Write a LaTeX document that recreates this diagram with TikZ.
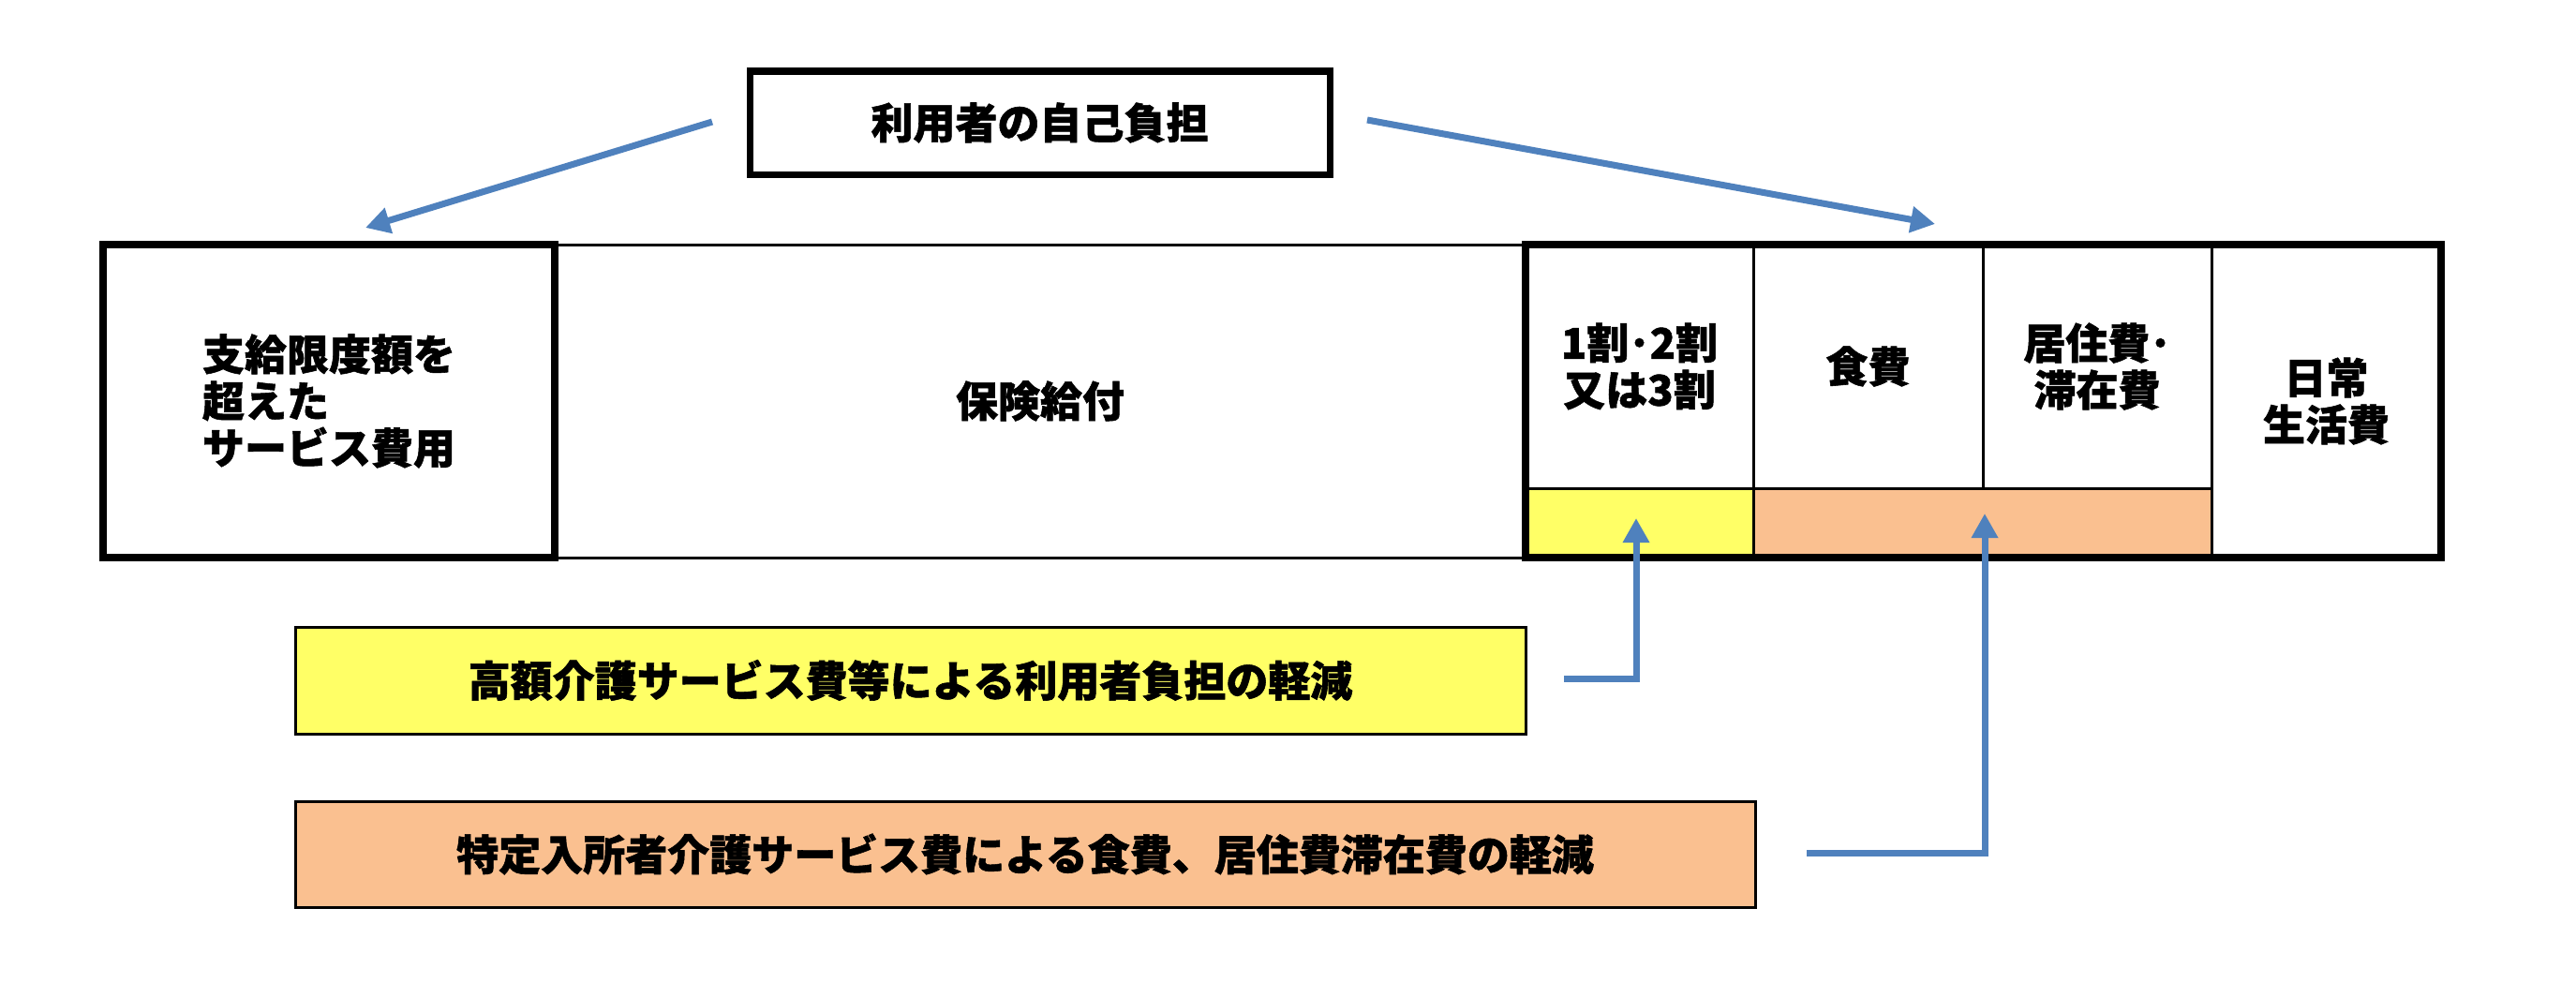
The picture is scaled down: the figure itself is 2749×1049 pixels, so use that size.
\documentclass[tikz,border=0pt]{standalone}
\usepackage{fontspec}
\newfontfamily\jp{Noto Sans CJK JP}[BoldFeatures={FakeBold=1.2}]
\usetikzlibrary{arrows.meta,calc}
\definecolor{arrblue}{HTML}{4F81BD}
\definecolor{ylw}{HTML}{FFFF66}
\definecolor{org}{HTML}{FAC090}
\begin{document}
\begin{tikzpicture}[x=1pt,y=-1pt,
  lbl/.style={font=\jp\bfseries\fontsize{45}{50}\selectfont, align=center, inner sep=0pt, text=black},
  thinbox/.style={draw=black, line width=3pt, lbl},
  thickbox/.style={draw=black, line width=8pt, lbl},
  arr/.style={draw=arrblue, line width=7pt, -{Triangle[width=27pt,length=26pt]}}]
\useasboundingbox[fill=white] (0,0) rectangle (2749,1049);
% top label
\node[draw=black, line width=7pt, lbl, minimum width=619pt, minimum height=110pt] (top) at (1109.5,131) {利用者の自己負担};
% main bar
\node[thinbox, minimum width=1036pt, minimum height=334pt] (ins) at (1110,428) {保険給付};
\node[thinbox, minimum width=243pt, minimum height=260pt] (c1) at (1749.5,391) {1割･2割\\又は3割};
\node[thinbox, minimum width=245pt, minimum height=260pt] (c2) at (1993.5,391) {食費};
\node[thinbox, minimum width=244pt, minimum height=260pt] (c3) at (2238,391) {居住費･\\滞在費};
\node[thinbox, minimum width=245pt, minimum height=334pt] (c4) at (2482.5,428) {日常\\生活費};
\node[thinbox, fill=ylw, minimum width=243pt, minimum height=74pt] (y1) at (1749.5,558) {};
\node[thinbox, fill=org, minimum width=489pt, minimum height=74pt] (o1) at (2115.5,558) {};
\node[thickbox, align=left, minimum width=482pt, minimum height=334pt] (lb) at (351,428) {支給限度額を\\超えた\\サービス費用};
\node[thickbox, minimum width=977pt, minimum height=334pt] (grp) at (2116.5,428) {};
% reduction boxes
\node[thinbox, fill=ylw, minimum width=1313pt, minimum height=114pt] (yb) at (971.5,726) {高額介護サービス費等による利用者負担の軽減};
\node[thinbox, fill=org, minimum width=1558pt, minimum height=113pt] (ob) at (1094,911.5) {特定入所者介護サービス費による食費、居住費滞在費の軽減};
% arrows
\draw[arr] ($(top.west)+(-36.5,-1)$) -- ($(lb.north)+(39,-14)$);
\draw[arr] ($(top.east)+(36.5,-3)$) -- ($(grp.north)+(-51.5,-18)$);
\draw[arr] ($(yb.east)+(39.5,-2)$) -| ($(y1.center)+(-3.5,-5)$);
\draw[arr] ($(ob.east)+(53.5,-1.5)$) -| ($(o1.center)+(2.5,-10)$);
\end{tikzpicture}
\end{document}
